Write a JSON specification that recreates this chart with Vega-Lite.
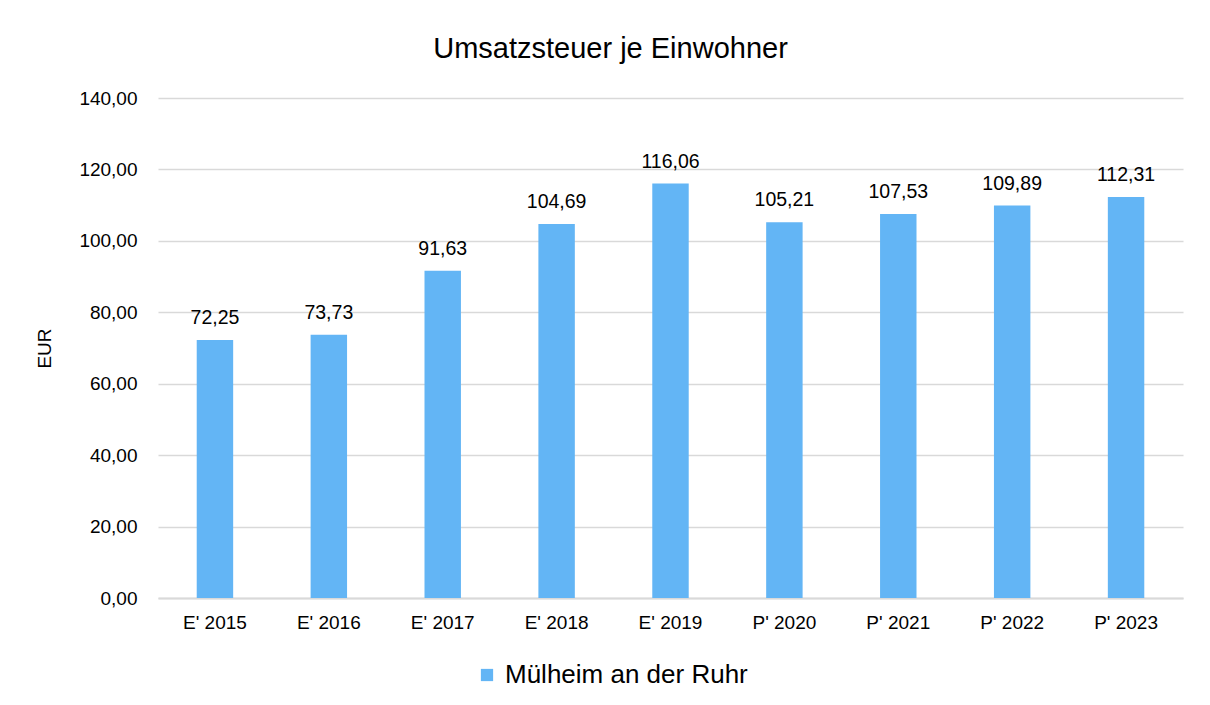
{
  "$schema": "https://vega.github.io/schema/vega-lite/v6.json",
  "width": 1025,
  "height": 500,
  "autosize": {"type": "none"},
  "padding": {"left": 158, "top": 98, "right": 27, "bottom": 107},
  "background": "white",
  "config": {
    "locale": {"number": {"decimal": ",", "thousands": ".", "grouping": [3], "currency": ["", " €"]}},
    "font": "Liberation Sans",
    "view": {"stroke": null}
  },
  "title": {
    "text": "Umsatzsteuer je Einwohner",
    "fontSize": 29,
    "fontWeight": "normal",
    "color": "#000000",
    "font": "Liberation Sans",
    "anchor": "middle",
    "dx": -60,
    "offset": 25
  },
  "data": {
    "values": [
      {"year": "E' 2015", "value": 72.25, "series": "Mülheim an der Ruhr"},
      {"year": "E' 2016", "value": 73.73, "series": "Mülheim an der Ruhr"},
      {"year": "E' 2017", "value": 91.63, "series": "Mülheim an der Ruhr"},
      {"year": "E' 2018", "value": 104.69, "series": "Mülheim an der Ruhr"},
      {"year": "E' 2019", "value": 116.06, "series": "Mülheim an der Ruhr"},
      {"year": "P' 2020", "value": 105.21, "series": "Mülheim an der Ruhr"},
      {"year": "P' 2021", "value": 107.53, "series": "Mülheim an der Ruhr"},
      {"year": "P' 2022", "value": 109.89, "series": "Mülheim an der Ruhr"},
      {"year": "P' 2023", "value": 112.31, "series": "Mülheim an der Ruhr"}
    ]
  },
  "encoding": {
    "x": {
      "field": "year",
      "type": "nominal",
      "sort": null,
      "scale": {"paddingInner": 0.68, "paddingOuter": 0.34},
      "axis": {
        "title": null,
        "labelAngle": 0,
        "labelFontSize": 19,
        "labelColor": "#000000",
        "labelPadding": 15,
        "ticks": false,
        "domainColor": "#d9d9d9",
        "domainWidth": 2,
        "grid": false
      }
    },
    "y": {
      "field": "value",
      "type": "quantitative",
      "scale": {"domain": [0, 140], "nice": false},
      "axis": {
        "title": "EUR",
        "titleFontSize": 19,
        "titleFontWeight": "normal",
        "titleColor": "#000000",
        "titlePadding": 24,
        "values": [0, 20, 40, 60, 80, 100, 120, 140],
        "format": ".2f",
        "labelFontSize": 19,
        "labelColor": "#000000",
        "labelPadding": 21,
        "ticks": false,
        "domain": false,
        "gridColor": "#d9d9d9",
        "gridWidth": 1.5
      }
    }
  },
  "layer": [
    {
      "mark": {"type": "bar"},
      "encoding": {
        "color": {
          "field": "series",
          "type": "nominal",
          "scale": {"range": ["#63b5f5"]},
          "legend": {
            "title": null,
            "orient": "none",
            "legendX": 316,
            "legendY": 564,
            "labelFontSize": 26,
            "labelLimit": 600,
            "labelColor": "#000000",
            "symbolType": "square",
            "symbolSize": 150,
            "symbolStrokeWidth": 0,
            "labelOffset": 5
          }
        }
      }
    },
    {
      "mark": {"type": "text", "baseline": "bottom", "dy": -12, "fontSize": 19.5, "color": "#000000"},
      "encoding": {
        "text": {"field": "value", "type": "quantitative", "format": ".2f"}
      }
    }
  ]
}
